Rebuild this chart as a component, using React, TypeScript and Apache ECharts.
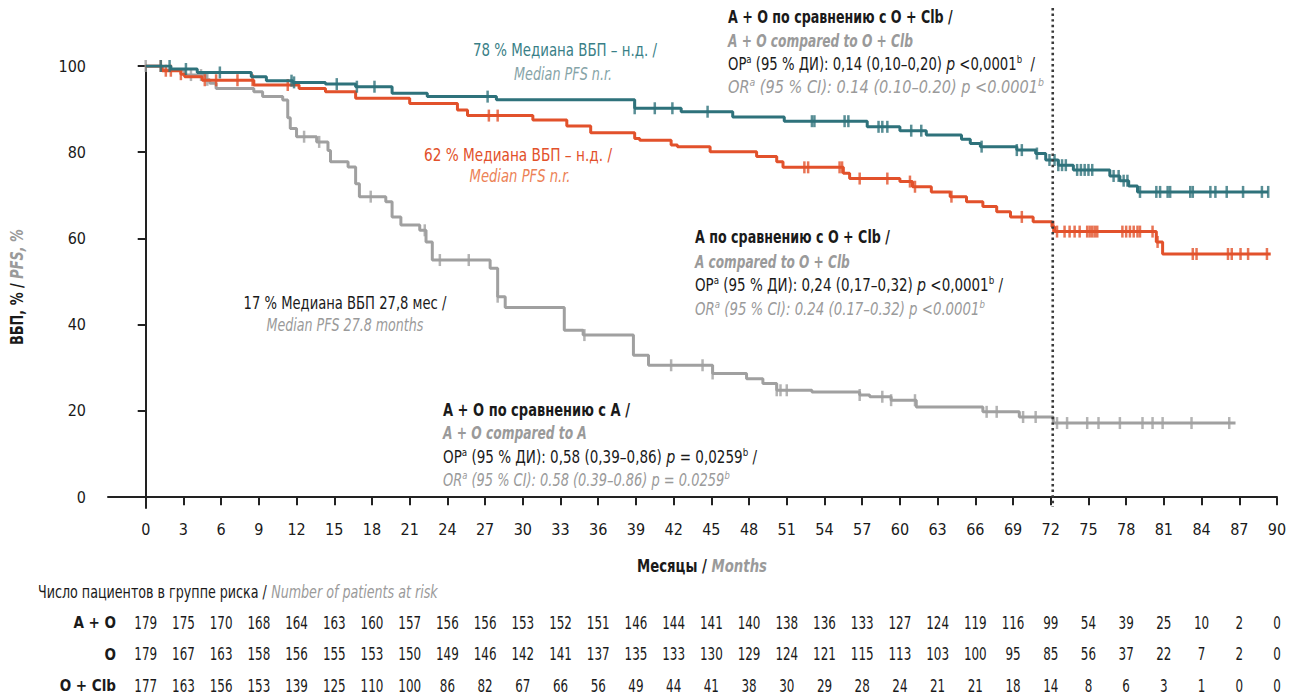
import React, { useEffect, useRef } from "react";
import * as echarts from "echarts";

const FONT = '"DejaVu Sans Condensed", "Liberation Sans Narrow", sans-serif';

const xTicks = [0, 3, 6, 9, 12, 15, 18, 21, 24, 27, 30, 33, 36, 39, 42, 45, 48, 51, 54, 57, 60, 63, 66, 69, 72, 75, 78, 81, 84, 87, 90];
const yTicks = [0, 20, 40, 60, 80, 100];

const riskRows = ["A + O", "O", "O + Clb"];
const riskAO = [179, 175, 170, 168, 164, 163, 160, 157, 156, 156, 153, 152, 151, 146, 144, 141, 140, 138, 136, 133, 127, 124, 119, 116, 99, 54, 39, 25, 10, 2, 0];
const riskO = [179, 167, 163, 158, 156, 155, 153, 150, 149, 146, 142, 141, 137, 135, 133, 130, 129, 124, 121, 115, 113, 103, 100, 95, 85, 56, 37, 22, 7, 2, 0];
const riskOClb = [177, 163, 156, 153, 139, 125, 110, 100, 86, 82, 67, 66, 56, 49, 44, 41, 38, 30, 29, 28, 24, 21, 21, 18, 14, 8, 6, 3, 1, 0, 0];

// A + O (teal)
const aoTime = [0, 2.0, 4.1, 8.4, 9.6, 11.7, 14.3, 16.7, 19.6, 22.4, 27.9, 38.9, 42.6, 46.7, 50.8, 57.4, 60.0, 62.1, 64.9, 65.6, 66.4, 69.3, 70.8, 71.6, 72.6, 73.8, 76.7, 77.5, 78.2, 78.9];
const aoPfs = [100, 99.3, 98.5, 97.5, 96.6, 96.2, 95.8, 95.2, 93.7, 92.9, 92.2, 90.2, 89.4, 88.2, 87.2, 85.9, 85.0, 84.0, 83.0, 82.0, 81.3, 80.5, 79.7, 78.2, 77.0, 75.9, 74.5, 73.4, 72.2, 70.8];
const aoEnd = 89.3;
const aoCensor = [1.2, 1.9, 3.2, 5.9, 11.6, 11.8, 15.2, 16.8, 18.2, 27.2, 38.9, 40.5, 41.9, 44.7, 53.0, 53.2, 55.6, 55.9, 58.3, 58.6, 59.0, 60.9, 61.7, 66.5, 69.3, 69.7, 70.9, 71.9, 72.3, 72.6, 72.9, 73.2, 74.1, 74.4, 74.7, 75.0, 75.3, 77.0, 77.4, 77.8, 78.1, 79.1, 80.4, 80.7, 81.3, 81.5, 83.1, 83.3, 84.7, 85.1, 86.0, 87.3, 88.8, 89.3];

// O (red)
const oTime = [0, 1.3, 2.8, 3.1, 4.5, 8.6, 12.2, 14.3, 16.7, 21.0, 24.8, 25.6, 30.8, 33.5, 35.4, 38.9, 39.3, 41.8, 42.3, 44.9, 48.6, 50.2, 50.7, 55.5, 56.0, 60.0, 61.0, 62.5, 64.0, 65.3, 66.6, 67.7, 68.8, 70.6, 72.1, 72.3, 80.4, 80.9];
const oPfs = [100, 98.9, 98.1, 97.5, 96.7, 95.6, 94.8, 94.0, 92.5, 91.3, 89.8, 88.5, 87.5, 86.1, 84.5, 83.2, 82.8, 81.7, 81.3, 80.1, 79.0, 77.8, 76.5, 75.1, 73.9, 73.2, 72.0, 70.8, 69.7, 68.5, 67.4, 66.2, 65.0, 63.9, 62.7, 61.6, 59.2, 56.4];
const oEnd = 89.5;
const oCensor = [1.2, 1.6, 2.0, 2.8, 4.7, 5.6, 7.3, 8.5, 11.3, 27.3, 28.0, 52.4, 52.7, 55.2, 55.4, 56.8, 59.0, 60.8, 61.2, 64.1, 69.7, 72.2, 72.5, 73.1, 73.5, 73.9, 74.3, 74.9, 75.1, 75.3, 75.5, 75.7, 77.7, 78.0, 78.3, 78.6, 78.9, 79.1, 80.1, 80.5, 83.3, 83.6, 86.1, 86.4, 87.1, 87.7, 89.2];

// O + Clb (gray)
const cTime = [0, 1.3, 3.1, 4.8, 5.1, 5.6, 8.6, 9.3, 10.9, 11.3, 11.5, 12.0, 13.6, 14.5, 14.7, 16.1, 16.7, 17.0, 19.1, 19.6, 20.3, 21.8, 22.3, 22.8, 27.4, 28.0, 28.6, 33.3, 34.8, 38.8, 40.0, 45.1, 47.8, 49.1, 50.2, 53.0, 56.8, 57.6, 59.3, 61.3, 66.6, 69.5, 72.2];
const cPfs = [100, 99.1, 97.9, 96.8, 96.0, 94.8, 94.0, 92.9, 92.1, 88.0, 85.5, 83.6, 82.4, 80.4, 77.8, 76.6, 72.7, 69.7, 68.5, 65.0, 63.1, 61.9, 59.2, 55.0, 53.1, 46.5, 44.0, 38.7, 37.6, 32.9, 30.6, 28.7, 27.5, 26.4, 24.8, 24.4, 23.7, 23.3, 22.5, 20.9, 19.8, 18.6, 17.2];
const cEnd = 86.7;
const cCensor = [0, 3.6, 4.4, 4.9, 12.6, 13.8, 17.9, 22.2, 23.4, 25.7, 28.0, 34.9, 41.8, 44.3, 45.1, 50.2, 50.5, 51.0, 56.8, 58.6, 59.3, 61.2, 66.9, 67.7, 69.8, 70.8, 72.5, 73.3, 74.9, 75.8, 77.5, 79.3, 80.1, 80.9, 83.2, 86.2];

const TEAL = "#2e727b";
const RED = "#e2512b";
const GRAY = "#a0a0a0";
const BLACK = "#1a1a1a";
const TXTGRAY = "#9a9a9a";

function stepData(times: number[], vals: number[], end: number) {
  const d = times.map((t, i) => [t, vals[i]]);
  d.push([end, vals[vals.length - 1]]);
  return d;
}
function censorData(times: number[], vals: number[], cens: number[]) {
  return cens.map((c) => {
    let v = vals[0];
    for (let i = 0; i < times.length; i++) if (times[i] <= c) v = vals[i];
    return [c, v];
  });
}

const FS = 17;
const rich: any = {
  n: { fontFamily: FONT, fontSize: FS, fill: BLACK, color: BLACK, lineHeight: 21 },
  b: { fontFamily: FONT, fontSize: FS, fontWeight: "bold", fill: BLACK, color: BLACK, lineHeight: 21 },
  bi: { fontFamily: FONT, fontSize: FS, fontWeight: "bold", fontStyle: "italic", fill: TXTGRAY, color: TXTGRAY, lineHeight: 21 },
  i: { fontFamily: FONT, fontSize: FS + 1, fontStyle: "italic", fill: BLACK, color: BLACK, lineHeight: 21 },
  s: { fontFamily: FONT, fontSize: 11, fill: BLACK, color: BLACK, lineHeight: 13, verticalAlign: "top" },
  gi: { fontFamily: FONT, fontSize: FS, fontStyle: "italic", fill: TXTGRAY, color: TXTGRAY, lineHeight: 21 },
  gs: { fontFamily: FONT, fontSize: 11, fontStyle: "italic", fill: TXTGRAY, color: TXTGRAY, lineHeight: 13, verticalAlign: "top" },
  t: { fontFamily: FONT, fontSize: FS, fill: "#3a7f87", color: "#3a7f87", lineHeight: 21 },
  ti: { fontFamily: FONT, fontSize: FS, fontStyle: "italic", fill: "#86a4a8", color: "#86a4a8", lineHeight: 21 },
  r: { fontFamily: FONT, fontSize: FS, fill: RED, color: RED, lineHeight: 21 },
  ri: { fontFamily: FONT, fontSize: FS, fontStyle: "italic", fill: "#ec8256", color: "#ec8256", lineHeight: 21 },
};

let measureCtx: CanvasRenderingContext2D | null = null;
function measure(tokens: string[][]) {
  if (!measureCtx) measureCtx = document.createElement("canvas").getContext("2d");
  if (!measureCtx) return 0;
  let w = 0;
  for (const [st, t] of tokens) {
    const s = rich[st];
    measureCtx.font = `${s.fontStyle || "normal"} ${s.fontWeight || "normal"} ${s.fontSize}px ${FONT}`;
    w += measureCtx.measureText(t).width;
  }
  return w;
}

function txt(x: number, y: number, tokens: string[][], width: number, align = "left", rotation = 0) {
  const m = measure(tokens);
  const sx = m > 0 ? width / m : 1;
  return {
    type: "text",
    x,
    y,
    rotation,
    scaleX: sx,
    silent: true,
    style: {
      text: tokens.map(([s, t]) => `{${s}|${t}}`).join(""),
      rich,
      fontFamily: FONT,
      fontSize: FS,
      fill: BLACK,
      align,
      textAlign: align,
      verticalAlign: "middle",
      textVerticalAlign: "middle",
    },
  };
}

function buildAnnotations() {
  return [
    txt(565, 50, [["t", "78 % Медиана ВБП – н.д. /"]], 184, "center"),
    txt(563, 74, [["ti", "Median PFS n.r."]], 98, "center"),
    txt(518, 155, [["r", "62 % Медиана ВБП – н.д. /"]], 188, "center"),
    txt(520, 176, [["ri", "Median PFS n.r."]], 101, "center"),
    txt(345, 303, [["n", "17 % Медиана ВБП 27,8 мес /"]], 203, "center"),
    txt(345, 326, [["gi", "Median PFS 27.8 months"]], 157, "center"),

    txt(728, 18, [["b", "A + O по сравнению с O + Clb /"]], 225),
    txt(728, 41, [["bi", "A + O compared to O + Clb"]], 185),
    txt(728, 64, [["n", "ОР"], ["s", "a"], ["n", " (95 % ДИ): 0,14 (0,10–0,20) "], ["i", "p"], ["n", " <0,0001"], ["s", "b"], ["n", "  /"]], 307),
    txt(728, 87, [["gi", "OR"], ["gs", "a"], ["gi", " (95 % CI): 0.14 (0.10–0.20) p <0.0001"], ["gs", "b"]], 316),

    txt(695, 238, [["b", "A по сравнению с O + Clb /"]], 195),
    txt(695, 262, [["bi", "A compared to O + Clb"]], 155),
    txt(695, 285, [["n", "ОР"], ["s", "a"], ["n", " (95 % ДИ): 0,24 (0,17–0,32) "], ["i", "p"], ["n", " <0,0001"], ["s", "b"], ["n", " /"]], 308),
    txt(695, 309, [["gi", "OR"], ["gs", "a"], ["gi", " (95 % CI): 0.24 (0.17–0.32) p <0.0001"], ["gs", "b"]], 290),

    txt(443, 410, [["b", "A + O по сравнению с A /"]], 187),
    txt(443, 433, [["bi", "A + O compared to A"]], 144),
    txt(443, 457, [["n", "ОР"], ["s", "a"], ["n", " (95 % ДИ): 0,58 (0,39–0,86) "], ["i", "p"], ["n", " = 0,0259"], ["s", "b"], ["n", " /"]], 314),
    txt(443, 480, [["gi", "OR"], ["gs", "a"], ["gi", " (95 % CI): 0.58 (0.39–0.86) p = 0.0259"], ["gs", "b"]], 287),

    txt(702, 566, [["b", "Месяцы / "], ["bi", "Months"]], 130, "center"),
    txt(17, 287, [["b", "ВБП, % / "], ["bi", "PFS, %"]], 116, "center", Math.PI / 2),
    txt(38, 593, [["n", "Число пациентов в группе риска / "], ["gi", "Number of patients at risk"]], 400),
  ];
}

function riskSeries(rowIdx: number, vals: number[]) {
  return {
    type: "custom",
    xAxisIndex: 1,
    yAxisIndex: 1,
    silent: true,
    data: vals.map((v, i) => [xTicks[i], rowIdx, v]),
    renderItem: (_params: any, api: any) => {
      const p = api.coord([api.value(0), api.value(1)]);
      return {
        type: "text",
        x: p[0],
        y: p[1],
        scaleX: 0.78,
        style: {
          text: String(api.value(2)),
          fill: BLACK,
          fontFamily: FONT,
          fontSize: 17,
          align: "center",
          verticalAlign: "middle",
        },
      };
    },
  };
}

function buildOption(dotX: number | null) {
  const graphic: any[] = buildAnnotations();
  if (dotX !== null) {
    graphic.push({
      type: "line",
      silent: true,
      shape: { x1: dotX, y1: 8, x2: dotX, y2: 507 },
      style: { stroke: "#3a3a3a", lineWidth: 2.6, lineDash: [2.4, 3.2] },
      z: 5,
    });
  }
  const axisCommon = {
    axisLine: { show: true, lineStyle: { color: "#222", width: 2 } },
    axisTick: { show: true, length: 8, lineStyle: { color: "#222", width: 2 } },
    splitLine: { show: false },
  };
  return {
    animation: false,
    backgroundColor: "#ffffff",
    textStyle: { fontFamily: FONT },
    grid: [
      { left: 108, right: 18, top: 66, bottom: 189 },
      { left: 108, right: 18, top: 623, height: 63 },
    ],
    xAxis: [
      {
        type: "value",
        gridIndex: 0,
        min: -3,
        max: 90,
        interval: 3,
        ...axisCommon,
        axisTick: { ...axisCommon.axisTick, customValues: xTicks },
        axisLabel: {
          customValues: xTicks,
          formatter: (v: number) => (v < 0 ? "" : String(v)),
          color: BLACK,
          fontFamily: FONT,
          fontSize: 16,
          margin: 13,
        },
      },
      { type: "value", gridIndex: 1, min: -3, max: 90, show: false },
    ],
    yAxis: [
      {
        type: "value",
        gridIndex: 0,
        min: -2.5,
        max: 100,
        ...axisCommon,
        axisTick: { ...axisCommon.axisTick, customValues: yTicks },
        axisLabel: {
          customValues: yTicks,
          color: BLACK,
          fontFamily: FONT,
          fontSize: 16,
          margin: 22,
        },
      },
      {
        type: "category",
        gridIndex: 1,
        data: riskRows,
        inverse: true,
        boundaryGap: false,
        axisLine: { show: false },
        axisTick: { show: false },
        axisLabel: { color: BLACK, fontFamily: FONT, fontSize: 15, fontWeight: "bold", margin: -8 },
      },
    ],
    graphic,
    series: [
      {
        type: "line",
        step: "end",
        symbol: "none",
        data: stepData(cTime, cPfs, cEnd),
        lineStyle: { color: GRAY, width: 3 },
        z: 2,
      },
      {
        type: "scatter",
        symbol: "rect",
        symbolSize: [2.5, 12],
        itemStyle: { color: GRAY },
        data: censorData(cTime, cPfs, cCensor),
        z: 2,
      },
      {
        type: "line",
        step: "end",
        symbol: "none",
        data: stepData(oTime, oPfs, oEnd),
        lineStyle: { color: RED, width: 3 },
        z: 3,
      },
      {
        type: "scatter",
        symbol: "rect",
        symbolSize: [2.5, 12],
        itemStyle: { color: RED },
        data: censorData(oTime, oPfs, oCensor),
        z: 3,
      },
      {
        type: "line",
        step: "end",
        symbol: "none",
        data: stepData(aoTime, aoPfs, aoEnd),
        lineStyle: { color: TEAL, width: 3 },
        z: 4,
      },
      {
        type: "scatter",
        symbol: "rect",
        symbolSize: [2.5, 12],
        itemStyle: { color: TEAL },
        data: censorData(aoTime, aoPfs, aoCensor),
        z: 4,
      },
      riskSeries(0, riskAO),
      riskSeries(1, riskO),
      riskSeries(2, riskOClb),
    ],
  };
}

export default function App() {
  const ref = useRef<HTMLDivElement>(null);
  useEffect(() => {
    if (!ref.current) return;
    const chart = echarts.init(ref.current, undefined, { renderer: "svg" });
    chart.setOption(buildOption(null) as any);
    const px = chart.convertToPixel({ xAxisIndex: 0 } as any, 72) as unknown as number;
    chart.setOption(buildOption(typeof px === "number" ? px + 2 : null) as any, { notMerge: true });
    return () => chart.dispose();
  }, []);
  return (
    <div
      ref={ref}
      style={{ position: "fixed", left: 0, top: 0, width: 1295, height: 697, background: "#fff" }}
    />
  );
}
